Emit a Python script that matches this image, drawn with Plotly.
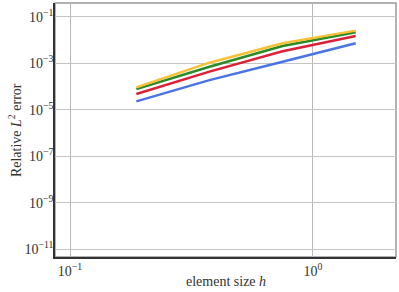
import plotly.graph_objects as go

h = [0.1875, 0.375, 0.75, 1.5]
err_blue = [2.3e-5, 1.9e-4, 1.17e-3, 7.3e-3]
err_red = [4.8e-5, 4.4e-4, 3.3e-3, 1.51e-2]
err_green = [7.8e-5, 7.1e-4, 5.6e-3, 2.18e-2]
err_yellow = [9.3e-5, 1.07e-3, 7.3e-3, 2.57e-2]

y_tickvals = [1e-11, 1e-9, 1e-7, 1e-5, 1e-3, 1e-1]
y_ticktext = ["10<sup>−11</sup>", "10<sup>−9</sup>", "10<sup>−7</sup>", "10<sup>−5</sup>", "10<sup>−3</sup>", "10<sup>−1</sup>"]
x_tickvals = [0.1, 1.0]
x_ticktext = ["10<sup>−1</sup>", "10<sup>0</sup>"]

series = [
    (err_blue, "#4a74e4"),
    (err_red, "#dc2038"),
    (err_green, "#2a8a2a"),
    (err_yellow, "#f7c035"),
]

fig = go.Figure()
for ys, c in series:
    fig.add_trace(go.Scatter(x=h, y=ys, mode="lines", line=dict(color=c, width=2.5), showlegend=False))

font = dict(family="Liberation Serif, DejaVu Serif, serif", size=14, color="#333")
fig.update_layout(
    width=399, height=292,
    margin=dict(l=55, r=3, t=3, b=35),
    paper_bgcolor="white", plot_bgcolor="white",
    font=font,
    shapes=[dict(type="rect", xref="paper", yref="paper", x0=0, x1=1, y0=0, y1=1,
                 line=dict(color="#999", width=1.5), layer="below")],
    annotations=[
        dict(text="element size <i>h</i>", xref="paper", yref="paper", x=0.5, y=-0.06,
             yanchor="top", xanchor="center", showarrow=False, font=dict(size=14, color="#333")),
        dict(text="Relative <i>L</i><sup>2</sup> error", xref="paper", yref="paper", x=-0.117, y=0.5,
             textangle=-90, xanchor="center", yanchor="middle", showarrow=False,
             font=dict(size=14, color="#333")),
    ],
)
fig.update_xaxes(type="log", range=[-1.062, 0.342], tickvals=x_tickvals, ticktext=x_ticktext,
                 showgrid=True, gridcolor="#b8b8b8", gridwidth=1, automargin=False,
                 showline=True, linecolor="#333", linewidth=1.5, ticks="", zeroline=False)
fig.update_yaxes(type="log", range=[-11.34, -0.4], tickvals=y_tickvals, ticktext=y_ticktext,
                 showgrid=True, gridcolor="#c4c4c4", gridwidth=1.2, automargin=False,
                 ticklabelstandoff=-3,
                 showline=True, linecolor="#333", linewidth=1.5, ticks="", zeroline=False)

fig.write_html("out.html", config={"displayModeBar": False},
               post_script="document.body.style.margin='0';document.body.style.overflow='hidden';")
